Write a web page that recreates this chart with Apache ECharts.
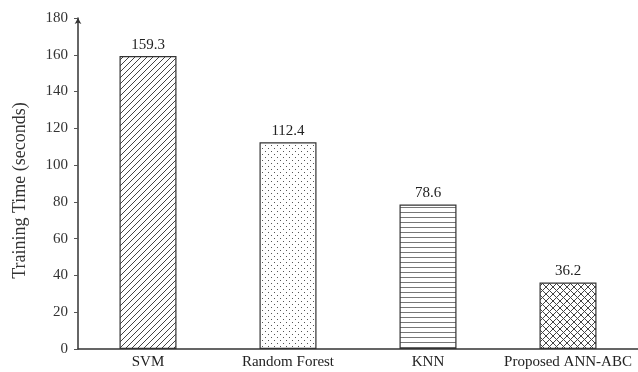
<!DOCTYPE html>
<html><head><meta charset="utf-8">
<script src="https://cdn.jsdelivr.net/npm/echarts@6/dist/echarts.min.js"></script>
<style>html,body{margin:0;padding:0;background:#fff}#c{width:638px;height:372px}</style>
</head><body><div id="c"></div>
<script>
var categories = ['SVM', 'Random Forest', 'KNN', 'Proposed ANN-ABC'];
var trainingTime = [159.3, 112.4, 78.6, 36.2];
var yTicks = [0, 20, 40, 60, 80, 100, 120, 140, 160, 180];

function makePattern(kind) {
  var c = document.createElement('canvas');
  var s = kind === 'diag' ? 6 : (kind === 'dots' ? 6 : (kind === 'hlines' ? 5 : 7));
  c.width = s; c.height = s;
  var g = c.getContext('2d');
  g.fillStyle = '#fff'; g.fillRect(0, 0, s, s);
  g.strokeStyle = '#444'; g.fillStyle = '#555'; g.lineWidth = 1;
  if (kind === 'diag') {
    g.beginPath();
    g.moveTo(0, s); g.lineTo(s, 0);
    g.moveTo(-1, 1); g.lineTo(1, -1);
    g.moveTo(s - 1, s + 1); g.lineTo(s + 1, s - 1);
    g.stroke();
  } else if (kind === 'dots') {
    g.fillRect(1, 1, 1, 1);
    g.fillRect(4, 4, 1, 1);
  } else if (kind === 'hlines') {
    g.fillStyle = '#777';
    g.fillRect(0, 2, s, 1);
  } else {
    g.beginPath();
    g.moveTo(0, 0); g.lineTo(s, s);
    g.moveTo(0, s); g.lineTo(s, 0);
    g.stroke();
  }
  return { image: c, repeat: 'repeat' };
}
var patterns = [makePattern('diag'), makePattern('dots'), makePattern('hlines'), makePattern('cross')];

var chart = echarts.init(document.getElementById('c'), null, { renderer: 'canvas' });
var font = '"Liberation Serif", "DejaVu Serif", serif';
chart.setOption({
  animation: false,
  backgroundColor: '#fff',
  grid: { left: 78, right: 0, top: 18, bottom: 23 },
  xAxis: {
    type: 'category',
    data: categories,
    axisLine: { lineStyle: { color: '#333', width: 1.5 } },
    axisTick: { show: false },
    axisLabel: { color: '#222', fontFamily: font, fontSize: 15, margin: 6, interval: 0, hideOverlap: false }
  },
  yAxis: {
    type: 'value',
    min: 0, max: 180, interval: 20,
    name: 'Training Time (seconds)',
    nameLocation: 'middle',
    nameGap: 49,
    nameTextStyle: { color: '#333', fontFamily: font, fontSize: 18, padding: [0, 14, 0, 0] },
    axisLine: { show: true, lineStyle: { color: '#333', width: 1.5 }, symbol: ['none', 'arrow'], symbolSize: [5, 6] },
    axisTick: { show: true, length: 4, lineStyle: { color: '#555' } },
    axisLabel: { color: '#333', fontFamily: font, fontSize: 15, margin: 10 },
    splitLine: { show: false }
  },
  series: [{
    type: 'bar',
    barWidth: 57,
    data: trainingTime.map(function (v, i) {
      return { value: v, itemStyle: { color: patterns[i], borderColor: '#333', borderWidth: 1.2 } };
    }),
    label: { show: true, position: 'top', distance: 4, color: '#222', fontFamily: font, fontSize: 15 }
  }]
});
</script></body></html>
